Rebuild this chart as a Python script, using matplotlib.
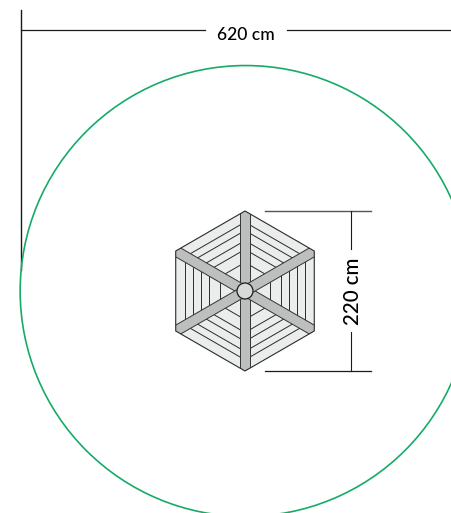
import numpy as np
import matplotlib.pyplot as plt
from matplotlib.patches import Circle, Polygon

# everything is in cm, origin = centre of the hexagon
span_label = '620 cm'
width_label = '220 cm'
swing_diameter = 620
hex_height = 220
plank_lines = [82, 72, 60, 49.5, 34]   # distance from centre of the plank joints
beam_width = 14
hub_radius = 11

px = 220 / 160.0   # cm per pixel of the output
fig = plt.figure(figsize=(4.52, 5.13), dpi=100)
ax = fig.add_axes([0, 0, 1, 1])
ax.set_xlim(-245 * px, 207 * px)
ax.set_ylim(-222 * px, 291 * px)
ax.axis('off')

dark = '#1a1a1a'
green = '#17ab68'

ax.add_patch(Circle((0.6 * px, 0), swing_diameter / 2, fill=False, ec=green, lw=1.2, zorder=2))

# hexagon with point up
R = hex_height / 2
angles = np.radians(np.arange(90, 450, 60))
verts = np.column_stack([R * np.cos(angles), R * np.sin(angles)])
hexagon = Polygon(verts, closed=True, fc='#eaedeb', ec='none', zorder=3)
ax.add_patch(hexagon)

# planks, parallel to each outer edge
for mid in np.radians(np.arange(0, 360, 60)):
    n = np.array([np.cos(mid), np.sin(mid)])
    t = np.array([-n[1], n[0]])
    for d in plank_lines:
        half = d * np.tan(np.radians(30))
        p1 = n * d + t * half
        p2 = n * d - t * half
        ax.plot([p1[0], p2[0]], [p1[1], p2[1]], color='#2a2a2a', lw=0.7, zorder=4)

# beams from vertex to vertex
for a in angles[:3]:
    u = np.array([np.cos(a), np.sin(a)])
    v = np.array([-u[1], u[0]]) * beam_width / 2
    L = R * 1.1
    beam = Polygon([u * L + v, u * L - v, -u * L - v, -u * L + v], closed=True,
                   fc='#bdbfbe', ec='#333333', lw=0.7, zorder=5)
    ax.add_patch(beam)
    beam.set_clip_path(hexagon)

ax.add_patch(Polygon(verts, closed=True, fill=False, ec='#2a2a2a', lw=0.8, zorder=6))
ax.add_patch(Circle((0, 0), hub_radius, fc='#d8dad9', ec=dark, lw=0.9, zorder=7))

# dimension lines
top_y = 261 * px
left_x = -224.5 * px
ax.plot([left_x, left_x], [21 * px, 281 * px], color=dark, lw=1.0, zorder=1)
ax.plot([left_x, -40 * px], [top_y, top_y], color=dark, lw=0.9)
ax.plot([42 * px, 207 * px], [top_y, top_y], color=dark, lw=0.9)
ax.text(0.5 * px, top_y - 5 * px, span_label, ha='center', va='center',
        family='Lato', fontsize=12.6, color='black', weight='medium')

ax.plot([20 * px, 126 * px], [R, R], color='#555555', lw=1.0)
ax.plot([20 * px, 126 * px], [-R, -R], color=dark, lw=0.9)
dim_x = 106.5 * px
ax.plot([dim_x, dim_x], [R, 42 * px], color=dark, lw=0.8)
ax.plot([dim_x, dim_x], [-R, -41 * px], color=dark, lw=0.8)
ax.text(dim_x + 1.5 * px, -0.5 * px, width_label, rotation=90, ha='center', va='center',
        family='Lato', fontsize=14.8, color='black', weight='medium')

plt.savefig('out.png', dpi=100)
